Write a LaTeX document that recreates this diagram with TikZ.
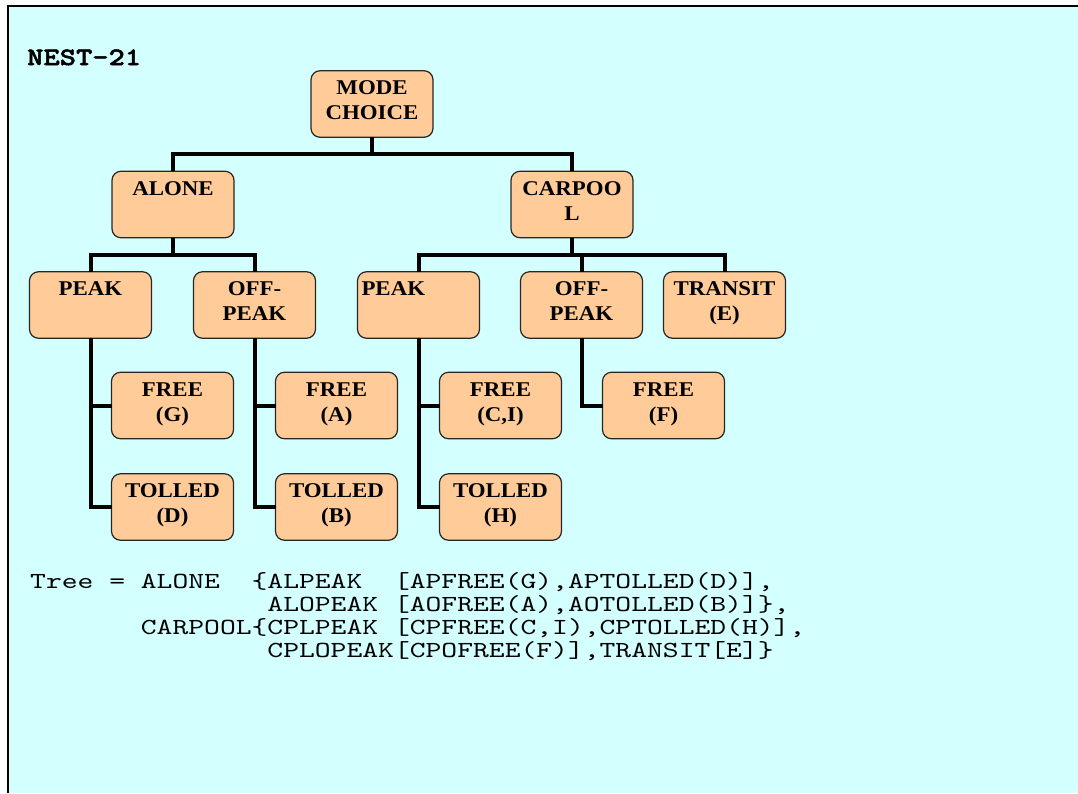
\documentclass[tikz,border=0pt]{standalone}
\usepackage{fontspec}
\setmainfont{Liberation Serif}
\newfontfamily\boxfont[FakeStretch=1.09]{Liberation Serif}
\newfontfamily\codefont[FakeStretch=1.31]{lmmono10-regular.otf}
\newfontfamily\tagfont[FakeStretch=1.24,FakeBold=2]{lmmonolt10-bold.otf}
\usepackage{tikz}
\usetikzlibrary{positioning}

\definecolor{sheet}{RGB}{212,255,255}
\definecolor{peach}{RGB}{255,204,153}

% text sits at the top of each box
\newcommand\boxtext[2][\centering]{\parbox[c][66.5pt][t]{122pt}{#1\rule{0pt}{24pt}#2}}
% blank columns in the tree listing
\newcommand\sk[1]{\setbox0\hbox{x}\hspace*{#1\wd0}}

\begin{document}
\begin{tikzpicture}[
        x=1pt, y=-1pt,
        node distance=34pt,
        box/.style={
            rectangle,
            draw=black!85,
            line width=1.2pt,
            fill=peach,
            rounded corners=9pt,
            minimum width=122pt,
            minimum height=66.5pt,
            inner sep=0pt,
            outer sep=0pt,
            font=\boxfont\bfseries\fontsize{21}{25}\selectfont
        },
        wire/.style={
            line width=4pt,
            black
        }
    ]
    \useasboundingbox (0,0) rectangle (1078,793);

    % Sheet
    \fill[white] (0,0) rectangle (1078,793);
    \fill[sheet] (7.7,5.7) rectangle (1078,793);
    \draw[line width=2pt] (7.7,793) -- (7.7,5.7) -- (1078,5.7);
    \node[anchor=base west, inner sep=0pt, font=\tagfont\fontsize{25}{25}\selectfont] (tag) at (27,65) {NEST-21};

    % Nodes
    \node[box] (mode) at (372,104) {\boxtext{MODE\\CHOICE}};
    \node[box, below=of mode, xshift=-199pt] (alone) {\boxtext{ALONE}};
    \node[box, below=of mode, xshift=200pt] (carpool) {\boxtext{CARPOO\\L}};

    \node[box, below=of alone, xshift=-82.5pt] (peakA) {\boxtext{PEAK}};
    \node[box, right=42pt of peakA] (offpeakA) {\boxtext{OFF-\\PEAK}};
    \node[box, right=42pt of offpeakA] (peakC) {\boxtext[\raggedright\hspace*{4pt}]{PEAK}};
    \node[box, right=41pt of peakC] (offpeakC) {\boxtext{OFF-\\PEAK}};
    \node[box, right=21pt of offpeakC] (transit) {\boxtext{TRANSIT\\(E)}};

    \node[box, below=of peakA, xshift=82pt] (freeG) {\boxtext{FREE\\(G)}};
    \node[box, below=35pt of freeG] (tolledD) {\boxtext{TOLLED\\(D)}};
    \node[box, below=of offpeakA, xshift=82pt] (freeA) {\boxtext{FREE\\(A)}};
    \node[box, below=35pt of freeA] (tolledB) {\boxtext{TOLLED\\(B)}};
    \node[box, below=of peakC, xshift=82pt] (freeCI) {\boxtext{FREE\\(C,I)}};
    \node[box, below=35pt of freeCI] (tolledH) {\boxtext{TOLLED\\(H)}};
    \node[box, below=of offpeakC, xshift=82pt] (freeF) {\boxtext{FREE\\(F)}};

    % Connectors
    \draw[wire] (mode.south) -- ++(0,17);
    \draw[wire] (alone.north) -- ++(0,-17) -| (carpool.north);
    \draw[wire] (alone.south) -- ++(0,17);
    \draw[wire] (peakA.north) -- ++(0,-17) -| (offpeakA.north);
    \draw[wire] (carpool.south) -- ++(0,17);
    \draw[wire] (peakC.north) -- ++(0,-17) -| (transit.north);
    \draw[wire] (offpeakC.north) -- ++(0,-17);

    \draw[wire] (peakA.south) |- (freeG.west);
    \draw[wire] (peakA.south) |- (tolledD.west);
    \draw[wire] (offpeakA.south) |- (freeA.west);
    \draw[wire] (offpeakA.south) |- (tolledB.west);
    \draw[wire] (peakC.south) |- (freeCI.west);
    \draw[wire] (peakC.south) |- (tolledH.west);
    \draw[wire] (offpeakC.south) |- (freeF.west);

    % Tree listing
    \node[anchor=base west, inner sep=0pt, font=\codefont\fontsize{23}{23}\selectfont] (tree) at (30,588) {\vtop{
        \hbox{Tree\sk1=\sk1ALONE\sk2\{ALPEAK\sk2[APFREE(G),APTOLLED(D)],}
        \hbox{\sk{15}ALOPEAK\sk1[AOFREE(A),AOTOLLED(B)]\},}
        \hbox{\sk7CARPOOL\{CPLPEAK\sk1[CPFREE(C,I),CPTOLLED(H)],}
        \hbox{\sk{15}CPLOPEAK[CPOFREE(F)],TRANSIT[E]\}}}};

\end{tikzpicture}
\end{document}
